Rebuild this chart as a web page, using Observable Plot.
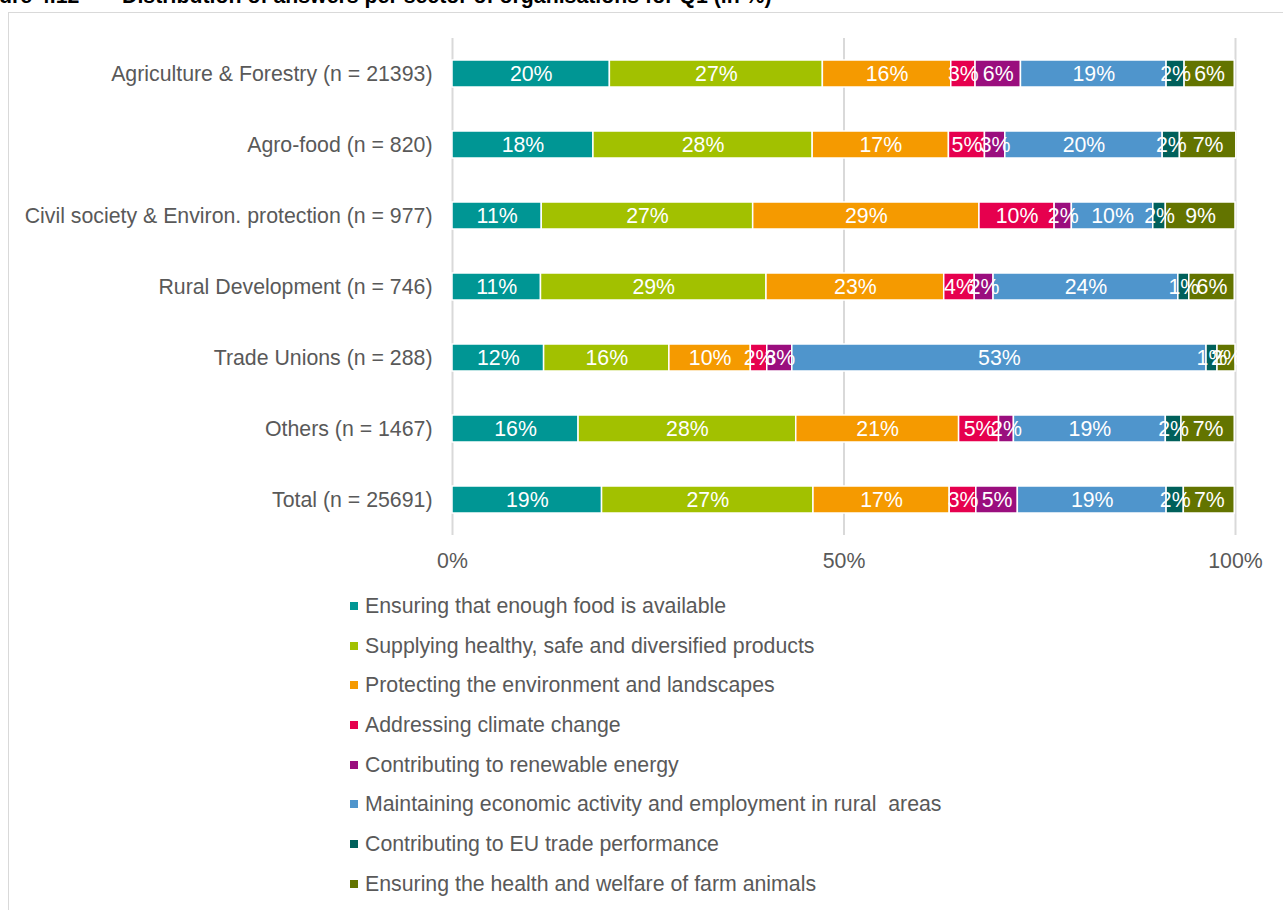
<!DOCTYPE html>
<html>
<head>
<meta charset="utf-8">
<script src="https://cdn.jsdelivr.net/npm/d3@7"></script>
<script src="https://cdn.jsdelivr.net/npm/@observablehq/plot@0.6"></script>
<style>
  html, body { margin: 0; padding: 0; background: #fff; overflow: hidden; }
  body { width: 1283px; height: 910px; position: relative; font-family: "Liberation Sans", Arial, sans-serif; }
  #frame { position: absolute; left: 8px; top: 12px; width: 1300px; height: 920px; border: 1px solid #d9d9d9; box-sizing: border-box; }
  .title { position: absolute; top: -14px; font-weight: bold; font-size: 21.3px; line-height: 21px; color: #000; white-space: pre; }
  #chart { position: absolute; left: 0; top: 0; }
  #legend { position: absolute; left: 350px; top: 594px; }
  .item { height: 39.7px; display: flex; align-items: flex-start; font-size: 21.3px; line-height: 24px; color: #595959; white-space: pre; }
  .sw { width: 8px; height: 8px; margin-top: 8px; margin-right: 7px; flex: none; }
</style>
</head>
<body>
<div id="frame"></div>
<div class="title" style="left:-33px">Figure 4.12</div>
<div class="title" style="left:122px">Distribution of answers per sector of organisations for Q1 (in %)</div>
<div id="chart"></div>
<div id="legend"></div>
<script>
const sectors = [
  "Agriculture & Forestry (n = 21393)",
  "Agro-food (n = 820)",
  "Civil society & Environ. protection (n = 977)",
  "Rural Development (n = 746)",
  "Trade Unions (n = 288)",
  "Others (n = 1467)",
  "Total (n = 25691)"
];
const categories = [
  "Ensuring that enough food is available",
  "Supplying healthy, safe and diversified products",
  "Protecting the environment and landscapes",
  "Addressing climate change",
  "Contributing to renewable energy",
  "Maintaining economic activity and employment in rural  areas",
  "Contributing to EU trade performance",
  "Ensuring the health and welfare of farm animals"
];
const colors = ["#009694", "#a2c100", "#f59a00", "#e6004e", "#9a0e7e", "#4f95cc", "#00605b", "#637400"];
// values per category (in the order of sectors), in %
const foodAvailable   = [20.1, 18.0, 11.4, 11.3, 11.7, 16.1, 19.1];
const healthyProducts = [27.2, 28.0, 27.0, 28.8, 16.0, 27.8, 27.0];
const environment     = [16.4, 17.4, 28.9, 22.7, 10.4, 20.8, 17.4];
const climate         = [3.1, 4.6, 9.6, 3.9, 2.1, 5.1, 3.4];
const renewable       = [5.8, 2.6, 2.2, 2.4, 3.2, 1.9, 5.3];
const ruralActivity   = [18.6, 20.1, 10.4, 23.6, 52.9, 19.4, 19.0];
const tradePerf       = [2.3, 2.2, 1.6, 1.4, 1.4, 2.0, 2.2];
const animalWelfare   = [6.4, 7.2, 8.9, 5.8, 2.3, 6.8, 6.5];
const xTicks = [0, 50, 100];

const series = [foodAvailable, healthyProducts, environment, climate, renewable, ruralActivity, tradePerf, animalWelfare];
const data = [];
categories.forEach((c, i) => sectors.forEach((s, j) => data.push({sector: s, cat: c, value: series[i][j]})));

const chart = Plot.plot({
  width: 1283,
  height: 580,
  marginLeft: 452,
  marginRight: 48,
  marginTop: 38,
  marginBottom: 45,
  style: {fontFamily: "'Liberation Sans', Arial, sans-serif", fontSize: "21.3px", color: "#595959", background: "transparent"},
  x: {domain: [0, 100], label: null},
  y: {domain: sectors, padding: 0, label: null},
  color: {domain: categories, range: colors},
  marks: [
    Plot.ruleX(xTicks, {stroke: "#d9d9d9", strokeWidth: 2}),
    Plot.barX(data, Plot.stackX({x: "value", y: "sector", fill: "cat", order: categories, stroke: "white", strokeWidth: 1.5, insetTop: 22, insetBottom: 22})),
    Plot.text(data, Plot.stackX({x: "value", y: "sector", z: "cat", order: categories, text: d => Math.round(d.value) + "%", fill: "white", fontSize: 21.3})),
    Plot.axisX({ticks: xTicks, tickFormat: d => d + "%", tickSize: 0, tickPadding: 17, fill: "#595959", fontSize: 21.3}),
    Plot.axisY({tickSize: 0, tickPadding: 20, fill: "#595959", fontSize: 21.3})
  ]
});
document.getElementById("chart").appendChild(chart);

const legend = document.getElementById("legend");
categories.forEach((c, i) => {
  const it = document.createElement("div");
  it.className = "item";
  const sw = document.createElement("span");
  sw.className = "sw";
  sw.style.background = colors[i];
  const t = document.createElement("span");
  t.textContent = c;
  it.appendChild(sw); it.appendChild(t);
  legend.appendChild(it);
});
</script>
</body>
</html>
